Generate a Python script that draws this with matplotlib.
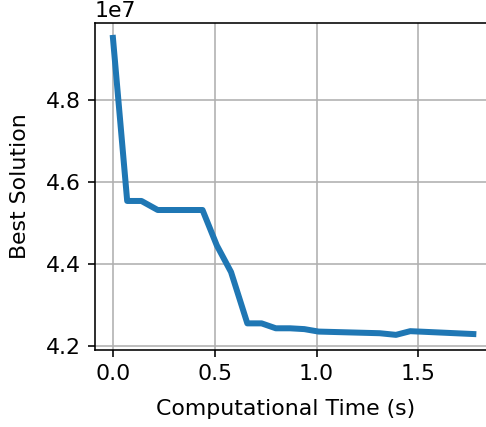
import matplotlib
matplotlib.use('Agg')
import matplotlib.pyplot as plt
from matplotlib.ticker import MultipleLocator

# values
time_s = [0.0, 0.07, 0.14, 0.22, 0.44, 0.51, 0.58, 0.66, 0.73, 0.80, 0.87, 0.94,
          1.01, 1.31, 1.39, 1.46, 1.77]
best = [4.95e7, 4.553e7, 4.553e7, 4.531e7, 4.531e7, 4.445e7, 4.38e7, 4.255e7, 4.255e7,
        4.243e7, 4.243e7, 4.241e7, 4.235e7, 4.231e7, 4.227e7, 4.236e7, 4.229e7]

plt.rcParams['font.size'] = 11

dpi = 144
fig = plt.figure(figsize=(486 / dpi, 427 / dpi), dpi=dpi)
# right edge of the axes sits just past the canvas, as in the reference
ax = fig.add_axes([0.1955, 0.181, 0.83, 0.765])
ax.plot(time_s, best, color='tab:blue', lw=3)
ax.set_xlim(-0.088, 1.893)
ax.yaxis.set_major_locator(MultipleLocator(0.2e7))
ax.grid(True)
ax.set_xlabel('Computational Time (s)')
ax.xaxis.set_label_coords(0.473, -0.15)
ax.set_ylabel('Best Solution', labelpad=8)

fig.savefig('out.png', dpi=dpi)
